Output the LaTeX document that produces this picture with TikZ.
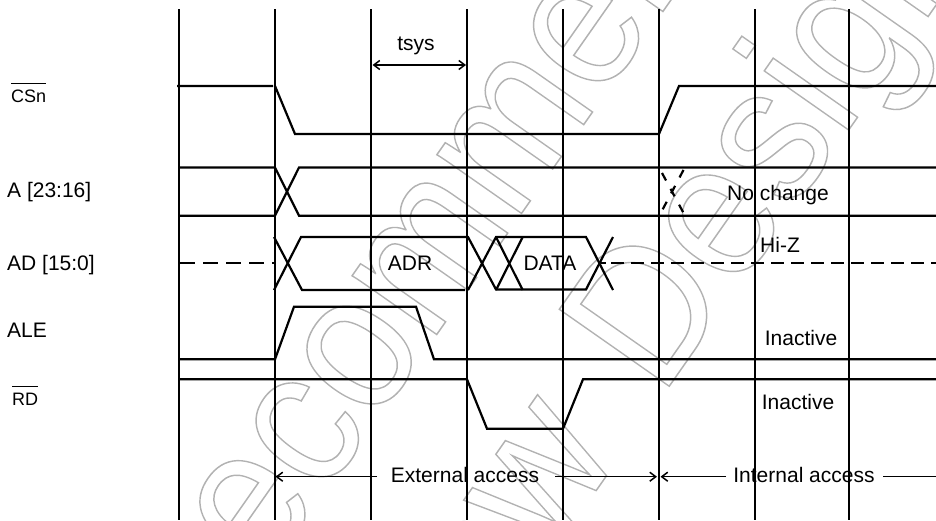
\documentclass[tikz,border=0pt]{standalone}
\usepackage{amsmath}
\usepackage{fontspec}
\setmainfont{Liberation Sans}
\usepackage{xcolor}
\usepackage{tikz}
\usetikzlibrary{arrows.meta}
\newcommand{\outlinetext}[1]{{\color[gray]{0.7}\scalebox{0.91}[1]{\special{pdf:code 1 Tr 1.5 w 0.7 G}#1\special{pdf:code 0 Tr 1 w}}}}
\newcommand{\barlabel}[1]{$\overline{\mbox{\rule{0pt}{16.5pt}#1}}$}
\begin{document}
\begin{tikzpicture}[x=1pt, y=-1pt, line join=miter, >={Straight Barb[length=6pt,width=9pt]},
    every node/.style={font=\fontsize{21}{23}\selectfont, inner sep=0pt, text=black},
    mark text/.style={font=\fontsize{195}{195}\selectfont, anchor=base west, rotate=55},
    grid line/.style={draw=black, line width=1.6pt},
    sig line/.style={draw=black, line width=2.2pt},
    cross line/.style={sig line, dash pattern=on 8.5pt off 9.5pt},
    span line/.style={draw=black, line width=1.5pt},
    side label/.style={anchor=base west},
    small label/.style={anchor=base west, font=\fontsize{18}{20}\selectfont}]
  \useasboundingbox (0,0) rectangle (936,520);
  \begin{scope}
    \clip (0,0) rectangle (936,520);
    \node (mark1) [mark text] at (192,684) {\outlinetext{Recommended}};
    \node (mark2) [mark text] at (418,745) {\outlinetext{New\hspace{21pt} Designs}};
  \end{scope}
  \foreach \x in {179,275,371,467,563,659,755,849}
    \draw[grid line] (\x,9) -- (\x,520);
  % signals
  \draw[sig line] (177,86) -- (273,86) (275,86) -- (295,134) -- (659,134) -- (679,86) -- (936,86);
  \draw[sig line] (179,167.5) -- (275,167.5) -- (299,215.7) -- (936,215.7);
  \draw[sig line] (179,215.7) -- (275,215.7) -- (299,167.5) -- (936,167.5);
  \draw[cross line] (662,173) -- (685,215.7);
  \draw[cross line] (662.7,209.3) -- (684,169);
  \draw[sig line, dash pattern=on 15pt off 8pt] (180,263) -- (275,263);
  \draw[sig line, dash pattern=on 13pt off 7pt] (601,263) -- (606,263) (611,263) -- (936,263);
  \draw[sig line] (274,237) -- (302,290) -- (465,290);
  \draw[sig line] (274,290) -- (301,237) -- (468,237) -- (496,289.5) -- (586,289.5) -- (613,237);
  \draw[sig line] (468,290) -- (496,237) -- (586,237) -- (613,290);
  \draw[sig line] (496,237) -- (522.7,290) (496,290) -- (522.7,237);
  \draw[sig line] (179,359.3) -- (275,359.3) -- (294,306.7) -- (416,306.7) -- (434,359.3) -- (936,359.3);
  \draw[sig line] (179,379.3) -- (467,379.3) -- (487,428.7) -- (563,428.7) -- (583,379.3) -- (936,379.3);
  % labels
  \node (csn) [small label] at (11,102) {\barlabel{CSn}};
  \node (addr) [side label] at (7,197) {A [23:16]};
  \node (data) [side label] at (7,270) {AD [15:0]};
  \node (ale) [side label] at (7,337) {ALE};
  \node (rd) [small label] at (12,405) {\barlabel{RD}};
  \node (tsys) at (416,46) {tsys};
  \node (adr) at (410,263) {ADR};
  \node (dat) at (550,263) {DATA};
  \node (nochange) at (778,195) {No change};
  \node (hiz) at (780,245) {Hi-Z};
  \node (inact1) at (801,338) {Inactive};
  \node (inact2) at (798,402) {Inactive};
  \node (ext) at (465,475) {External access};
  \node (int) at (804,475) {Internal access};
  % spans
  \coordinate (ts1) at (372.5,65);
  \coordinate (ts2) at (466,65);
  \coordinate (ex1) at (275.5,476.7);
  \coordinate (ex2) at (377,476.7);
  \coordinate (ex3) at (555,476.7);
  \coordinate (ex4) at (657,476.7);
  \coordinate (in1) at (660.5,476.7);
  \coordinate (in2) at (726,476.7);
  \coordinate (in3) at (883,476.7);
  \coordinate (in4) at (936,476.7);
  \draw[span line, <->] (ts1) -- (ts2);
  \draw[span line, ->] (ex2) -- (ex1);
  \draw[span line, ->] (ex3) -- (ex4);
  \draw[span line, ->] (in2) -- (in1);
  \draw[span line] (in3) -- (in4);
\end{tikzpicture}
\end{document}
